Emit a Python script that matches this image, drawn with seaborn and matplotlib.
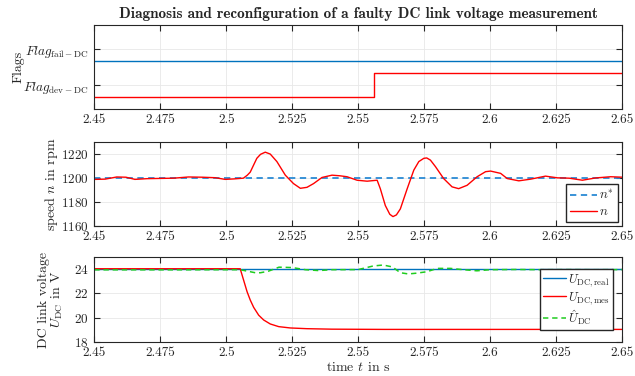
import numpy as np
import pandas as pd
import matplotlib
matplotlib.use("Agg")
import matplotlib.pyplot as plt
import seaborn as sns

# x axis
x_ticks = [2.45, 2.475, 2.5, 2.525, 2.55, 2.575, 2.6, 2.625, 2.65]
x_ticklabels = ["2.45", "2.475", "2.5", "2.525", "2.55", "2.575", "2.6", "2.625", "2.65"]

# Flags (0/1), shown with an offset per flag
t_flag = [2.45, 2.556, 2.65]
flag_dev = [0, 1, 1]
flag_fail = [0, 0, 0]

# speed reference and measured speed (rpm)
t_nref = [2.45, 2.65]
n_ref = [1200, 1200]
t_n = [2.4503, 2.4541, 2.4585, 2.4620, 2.4654, 2.4700, 2.4749, 2.4800, 2.4857, 2.4910,
       2.4958, 2.4996, 2.5030, 2.5065, 2.5080, 2.5091, 2.5104, 2.5116, 2.5130, 2.5148,
       2.5167, 2.5192, 2.5224, 2.5255, 2.5281, 2.5306, 2.5331, 2.5363, 2.5401, 2.5430,
       2.5458, 2.5496, 2.5534, 2.5572, 2.5584, 2.5603, 2.5620, 2.5632, 2.5645, 2.5660,
       2.5686, 2.5711, 2.5730, 2.5749, 2.5760, 2.5774, 2.5793, 2.5824, 2.5856, 2.5881,
       2.5913, 2.5951, 2.5983, 2.6002, 2.6040, 2.6065, 2.6109, 2.6154, 2.6210, 2.6255,
       2.6300, 2.6350, 2.6400, 2.6457, 2.6503]
n_meas = [1199.0, 1199.2, 1201.0, 1200.8, 1199.0, 1199.6, 1199.8, 1200.0, 1201.0, 1200.8,
          1200.4, 1199.0, 1199.4, 1200.0, 1202.5, 1205.0, 1211.0, 1216.5, 1219.8, 1221.6,
          1220.0, 1213.8, 1202.5, 1195.5, 1191.6, 1192.4, 1195.5, 1200.6, 1202.5, 1202.0,
          1201.2, 1198.3, 1197.5, 1198.3, 1191.3, 1177.3, 1170.0, 1168.1, 1169.5, 1174.5,
          1191.3, 1206.7, 1213.8, 1216.5, 1216.8, 1215.0, 1209.6, 1199.7, 1192.8, 1191.3,
          1194.1, 1201.2, 1205.4, 1205.9, 1204.0, 1199.7, 1197.8, 1199.2, 1201.7, 1200.3,
          1200.0, 1198.3, 1200.2, 1201.2, 1200.8]

# DC link voltage (V)
t_real = [2.45, 2.65]
u_real = [24.0, 24.0]
t_mes = [2.45, 2.5053, 2.5066, 2.5079, 2.5091, 2.5104, 2.5123, 2.5142, 2.5167, 2.5199,
         2.5243, 2.5306, 2.5400, 2.5600, 2.65]
u_mes = [24.05, 24.05, 23.1, 22.15, 21.46, 20.85, 20.2, 19.8, 19.47, 19.25,
         19.14, 19.08, 19.04, 19.02, 19.02]
t_est = [2.45, 2.4800, 2.5053, 2.5080, 2.5110, 2.5130, 2.5160, 2.5200, 2.5250, 2.5300,
         2.5350, 2.5400, 2.5500, 2.5557, 2.5595, 2.5630, 2.5660, 2.5690, 2.5720, 2.5760,
         2.5800, 2.5850, 2.5900, 2.5950, 2.6000, 2.6100, 2.6200, 2.6300, 2.6400, 2.65]
u_est = [23.96, 23.96, 23.97, 23.85, 23.72, 23.72, 23.85, 24.18, 24.15, 23.97,
         23.90, 23.97, 23.98, 24.28, 24.36, 24.20, 23.72, 23.62, 23.68, 23.80,
         24.08, 24.08, 23.97, 23.88, 23.97, 23.99, 23.97, 23.98, 23.97, 23.98]

sns.set_theme(style="whitegrid")
plt.rcParams.update({
    "font.family": "cmr10",
    "mathtext.fontset": "cm",
    "axes.formatter.use_mathtext": True,
    "font.size": 9.5,
    "axes.edgecolor": "#262626",
    "axes.linewidth": 0.8,
    "grid.color": "#e8e8e8",
    "grid.linewidth": 0.6,
    "xtick.direction": "in",
    "ytick.direction": "in",
    "xtick.top": True,
    "ytick.right": True,
    "xtick.bottom": True,
    "ytick.left": True,
    "xtick.color": "#262626",
    "ytick.color": "#262626",
    "xtick.labelcolor": "#262626",
    "ytick.labelcolor": "#262626",
    "xtick.major.size": 4,
    "ytick.major.size": 4,
    "xtick.major.width": 0.8,
    "ytick.major.width": 0.8,
    "xtick.labelsize": 9.5,
    "ytick.labelsize": 9.5,
})

blue = "#0072BD"
blue_ref = "#2a8ad4"
red = "#FF0000"
green = "#1fcc1f"

fig = plt.figure(figsize=(6.35, 3.76), dpi=100)
ax1 = fig.add_axes([0.1485, 0.7093, 0.831, 0.2234])
ax2 = fig.add_axes([0.1485, 0.398, 0.831, 0.2242])
ax3 = fig.add_axes([0.1485, 0.0912, 0.831, 0.2245])

# Flags
sns.lineplot(x=t_flag, y=[2 / 3 + 2 / 3 * f for f in flag_fail], ax=ax1, color=blue,
             linewidth=1.0, estimator=None, drawstyle="steps-post")
sns.lineplot(x=t_flag, y=[-1 / 3 + 2 / 3 * f for f in flag_dev], ax=ax1, color=red,
             linewidth=1.0, estimator=None, drawstyle="steps-post")
ax1.set_ylim(-2 / 3, 5 / 3)
ax1.set_yticks([0, 1])
ax1.set_yticklabels([r"$Flag_{\mathrm{dev-DC}}$", r"$Flag_{\mathrm{fail-DC}}$"], fontsize=9.5)
ax1.set_ylabel("Flags", fontsize=10)
ax1.yaxis.set_label_coords(-0.133, 0.5)
ax1.set_title("Diagnosis and reconfiguration of a faulty DC link voltage measurement",
              fontfamily="cmb10", fontsize=11, pad=5)

# Speed
sns.lineplot(x=t_nref, y=n_ref, ax=ax2, color=blue_ref, linewidth=1.3,
             linestyle=(0, (3.5, 2.5)), estimator=None, label=r"$n^{*}$")
sns.lineplot(x=t_n, y=n_meas, ax=ax2, color=red, linewidth=1.0, estimator=None, label=r"$n$")
ax2.set_ylim(1160, 1230)
ax2.set_yticks([1160, 1180, 1200, 1220])
ax2.set_ylabel(r"speed $n$ in rpm", fontsize=10)
ax2.yaxis.set_label_coords(-0.065, 0.5)
ax2.legend(loc="lower right", fontsize=9.5, fancybox=False, framealpha=1,
           edgecolor="#262626", handlelength=2.0, borderpad=0.3, labelspacing=0.3,
           handletextpad=0.2, borderaxespad=0.3)

# DC link voltage
sns.lineplot(x=t_real, y=u_real, ax=ax3, color=blue, linewidth=1.0, estimator=None,
             label=r"$U_{\mathrm{DC,real}}$")
sns.lineplot(x=t_mes, y=u_mes, ax=ax3, color=red, linewidth=1.0, estimator=None,
             label=r"$U_{\mathrm{DC,mes}}$")
sns.lineplot(x=t_est, y=u_est, ax=ax3, color=green, linewidth=1.1,
             linestyle=(0, (3.5, 2.5)), estimator=None, label=r"$\hat{U}_{\mathrm{DC}}$")
ax3.set_ylim(18, 25)
ax3.set_yticks([18, 20, 22, 24])
ax3.set_ylabel("DC link voltage\n" + r"$U_{\mathrm{DC}}$ in V", fontsize=10, linespacing=1.0)
ax3.yaxis.set_label_coords(-0.0555, 0.5)
ax3.set_xlabel(r"time $t$ in s", fontsize=10, labelpad=2)
ax3.legend(loc="center right", fontsize=9, fancybox=False, framealpha=1,
           edgecolor="#262626", handlelength=1.9, borderpad=0.25, labelspacing=0.12,
           handletextpad=0.15, borderaxespad=0.7)

for ax in (ax1, ax2, ax3):
    ax.set_xlim(2.45, 2.65)
    ax.set_xticks(x_ticks)
    ax.set_xticklabels(x_ticklabels)
    ax.tick_params(axis="x", pad=3.5)
    ax.tick_params(axis="y", pad=4)
    ax.grid(True)
    for s in ax.spines.values():
        s.set_visible(True)
        s.set_color("#262626")

fig.savefig("out.png", dpi=100)
